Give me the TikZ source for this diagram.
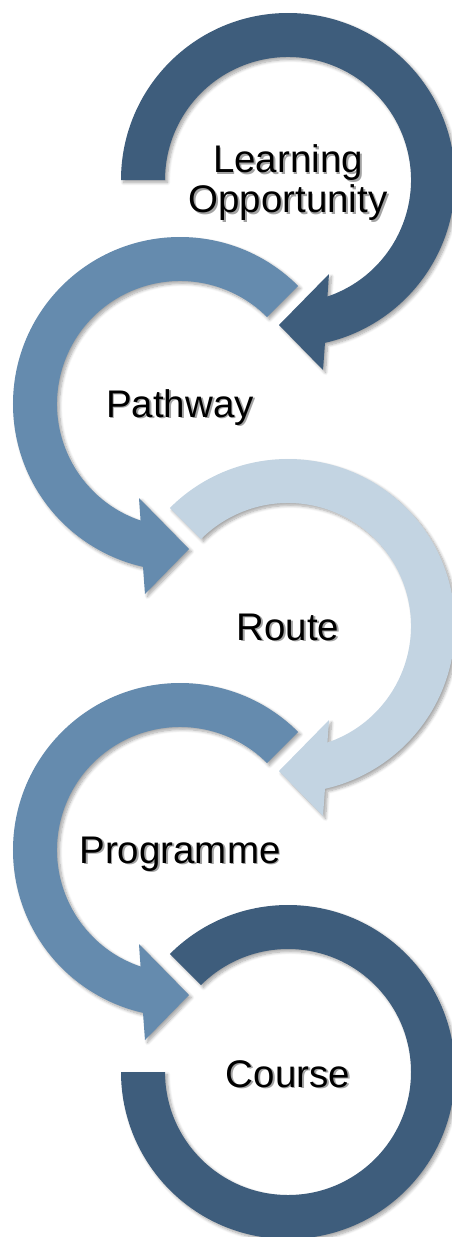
\documentclass[tikz,border=0pt]{standalone}
\usepackage{fontspec}
\setmainfont{Liberation Sans}
\usetikzlibrary{shadows.blur}
\definecolor{darkb}{HTML}{3E5D7C}
\definecolor{midb}{HTML}{658BAE}
\definecolor{lightb}{HTML}{C3D4E2}
\tikzset{
  band/.style={blur shadow={shadow xshift=2.5pt, shadow yshift=-2.5pt, shadow blur radius=3pt, shadow blur steps=8, shadow opacity=35}},
  captext/.style={font=\fontsize{38.5}{40}\selectfont, text=black, inner sep=0pt, align=center},
  captextshadow/.style={captext, text=black!60, opacity=.6},
}
\begin{document}
\begin{tikzpicture}[x=1pt,y=1pt]
\useasboundingbox (0,0) rectangle (451,-1237);
% arrow 1 : Learning Opportunity
\begin{scope}[shift={(288,-180)}]
\fill[darkb, band] (180:123pt) -- (180:167pt) arc[start angle=180, end angle=-77.2, radius=167pt]
  -- (35,-190) -- (-9,-145) -- (41,-94) -- (-71.3:123pt) arc[start angle=-71.3, end angle=180, radius=123pt] -- cycle;
\end{scope}
% arrow 2 : Pathway
\begin{scope}[shift={(180,-404)}]
\fill[midb, band] (45:123pt) -- (45:167pt) arc[start angle=45, end angle=257.2, radius=167pt]
  -- (-35,-190) -- (9,-145) -- (-41,-94) -- (251.3:123pt) arc[start angle=251.3, end angle=45, radius=123pt] -- cycle;
\end{scope}
% arrow 3 : Route
\begin{scope}[shift={(288,-626)}]
\fill[lightb, band] (135:123pt) -- (135:167pt) arc[start angle=135, end angle=-77.2, radius=167pt]
  -- (35,-190) -- (-9,-145) -- (41,-94) -- (-71.3:123pt) arc[start angle=-71.3, end angle=135, radius=123pt] -- cycle;
\end{scope}
% arrow 4 : Programme
\begin{scope}[shift={(180,-850)}]
\fill[midb, band] (45:123pt) -- (45:167pt) arc[start angle=45, end angle=257.2, radius=167pt]
  -- (-35,-190) -- (9,-145) -- (-41,-94) -- (251.3:123pt) arc[start angle=251.3, end angle=45, radius=123pt] -- cycle;
\end{scope}
% ring 5 : Course
\begin{scope}[shift={(288,-1072)}]
\fill[darkb, band] (135:123pt) -- (135:167pt) arc[start angle=135, end angle=-180, radius=167pt]
  -- (180:123pt) arc[start angle=-180, end angle=135, radius=123pt] -- cycle;
\end{scope}
% labels
\node[captextshadow] (t1s) at (289.8,-184.8) {Learning\\Opportunity};
\node[captext] (t1) at (288,-183) {Learning\\Opportunity};
\node[captextshadow, anchor=base] (t2s) at (181.8,-418.8) {Pathway};
\node[captext, anchor=base] (t2) at (180,-417) {Pathway};
\node[captextshadow, anchor=base] (t3s) at (289.8,-641.8) {Route};
\node[captext, anchor=base] (t3) at (288,-640) {Route};
\node[captextshadow, anchor=base] (t4s) at (181.8,-864.8) {Programme};
\node[captext, anchor=base] (t4) at (180,-863) {Programme};
\node[captextshadow, anchor=base] (t5s) at (289.8,-1088.8) {Course};
\node[captext, anchor=base] (t5) at (288,-1087) {Course};
\end{tikzpicture}
\end{document}
